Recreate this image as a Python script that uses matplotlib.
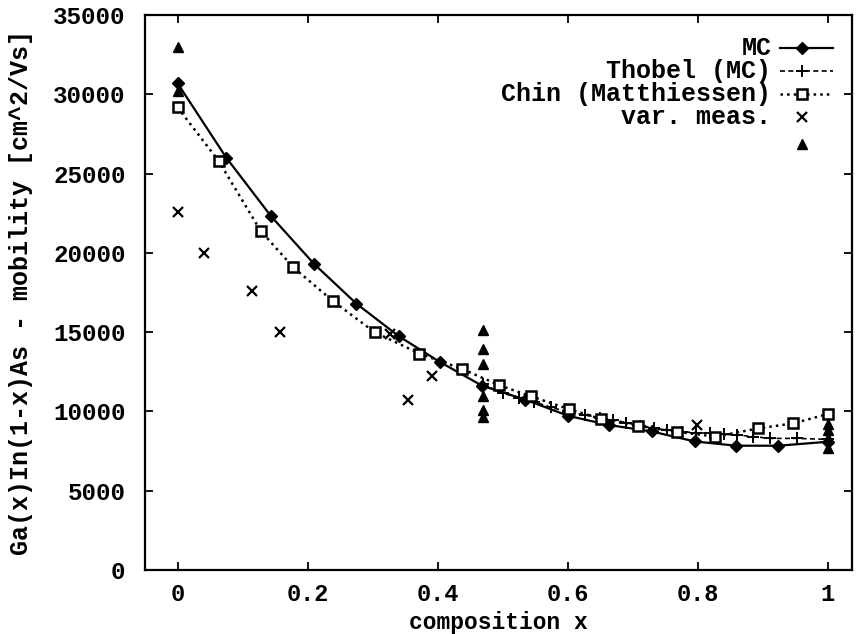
import numpy as np
import matplotlib
matplotlib.use("Agg")
from matplotlib import pyplot as plt
from matplotlib.lines import Line2D

# --- data ---
mc_x = [0, 0.075, 0.144, 0.21, 0.275, 0.34, 0.403, 0.468, 0.535, 0.601, 0.664, 0.729, 0.795, 0.859, 0.924, 1.0]
mc_y = [30700, 26000, 22300, 19300, 16800, 14750, 13130, 11630, 10740, 9720, 9140, 8740, 8110, 7840, 7840, 8090]

thobel_x = [0.47, 0.501, 0.525, 0.548, 0.575, 0.6, 0.627, 0.65, 0.67, 0.69, 0.711, 0.732,
            0.752, 0.775, 0.797, 0.819, 0.84, 0.86, 0.885, 0.911, 0.952, 1.0]
thobel_y = [11700, 11140, 10880, 10610, 10250, 9980, 9770, 9600, 9460, 9300, 9080, 8950,
            8830, 8720, 8660, 8620, 8560, 8510, 8420, 8300, 8300, 8240]

chin_x = [0, 0.063, 0.128, 0.178, 0.239, 0.303, 0.372, 0.437, 0.495, 0.543, 0.602, 0.651,
          0.708, 0.768, 0.827, 0.893, 0.947, 1.0]
chin_y = [29180, 25810, 21380, 19090, 16960, 15000, 13650, 12690, 11650, 10960, 10150, 9520,
          9100, 8720, 8410, 8930, 9250, 9840]

meas_x = [0, 0.041, 0.114, 0.158, 0.327, 0.355, 0.392, 0.798]
meas_y = [22600, 19970, 17610, 15030, 14880, 10720, 12250, 9140]

tri_x = [0, 0, 0.47, 0.47, 0.47, 0.47, 0.47, 0.47, 1.0, 1.0, 1.0, 1.0]
tri_y = [33000, 30200, 15130, 13940, 12990, 10990, 10090, 9630, 9200, 8800, 8300, 7700]

font = ['Liberation Mono', 'DejaVu Sans Mono']
fs_tick = 17.5
fs = 18

fig = plt.figure(figsize=(8.56, 6.34), dpi=100)
ax = fig.add_axes([0.1694, 0.1009, 0.8259, 0.8754])

ax.plot(mc_x, mc_y, '-', color='k', lw=1.6, marker='D', ms=6)
ax.plot(thobel_x, thobel_y, '--', color='k', lw=1.2, dashes=(3, 2), marker='+', ms=8, mew=1.4)
ax.plot(chin_x, chin_y, ':', color='k', lw=1.8, marker='s', ms=6.5, mfc='white', mew=1.8)
ax.plot(meas_x, meas_y, 'x', color='k', ms=7, mew=1.6)
ax.plot(tri_x, tri_y, '^', color='k', ms=7.5)

ax.set_xlim(-0.05, 1.037)
ax.set_ylim(0, 35000)
ax.set_xticks([0, 0.2, 0.4, 0.6, 0.8, 1.0])
ax.set_xticklabels(['0', '0.2', '0.4', '0.6', '0.8', '1'])
ax.set_yticks(np.arange(0, 35001, 5000))
ax.tick_params(direction='in', length=6, width=1.3, top=True, right=True)
ax.tick_params(axis='y', pad=14)
ax.tick_params(axis='x', pad=9)
for lab in ax.get_yticklabels():
    lab.set_family(font)
    lab.set_fontweight('bold')
    lab.set_fontsize(fs_tick)
for lab in ax.get_xticklabels():
    lab.set_family(font)
    lab.set_fontweight('bold')
    lab.set_fontsize(17)
for s in ax.spines.values():
    s.set_linewidth(1.6)

ax.set_xlabel('composition x', family=font, fontweight='bold', fontsize=16.5)
ax.set_ylabel('Ga(x)In(1-x)As - mobility [cm^2/Vs]', family=font, fontweight='bold', fontsize=fs)
ax.xaxis.set_label_coords(0.5, -0.073)
ax.yaxis.set_label_coords(-0.158, 0.5)

# legend, gnuplot style: text right aligned, sample on the right
rows = [0.9405, 0.899, 0.858, 0.8162, 0.768]
labels = ['MC', 'Thobel (MC)', 'Chin (Matthiessen)', 'var. meas.', '']
line_st = [dict(ls='-', lw=1.6), dict(ls='--', lw=1.2, dashes=(3, 2)), dict(ls=':', lw=1.8),
           None, None]
mark_st = [dict(marker='D', ms=6), dict(marker='+', ms=8, mew=1.4),
           dict(marker='s', ms=6.5, mfc='white', mew=1.8), dict(marker='x', ms=7, mew=1.6),
           dict(marker='^', ms=7.5)]
for yy, lab, ls, mk in zip(rows, labels, line_st, mark_st):
    ax.text(0.886, yy, lab, transform=ax.transAxes, ha='right', va='center',
            family=font, fontweight='bold', fontsize=fs)
    if ls is not None:
        ax.add_line(Line2D([0.898, 0.973], [yy, yy], transform=ax.transAxes, color='k', **ls))
    ax.add_line(Line2D([0.93], [yy], transform=ax.transAxes, color='k', ls='none', **mk))

fig.savefig('out.png', dpi=100)
